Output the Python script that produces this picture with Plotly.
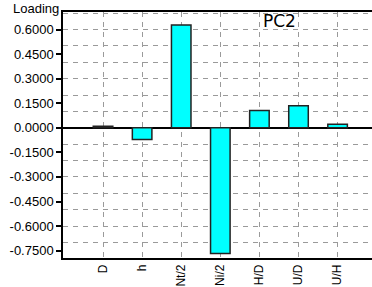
import plotly.graph_objects as go

categories = ["D", "h", "Nt/2", "Ni/2", "H/D", "U/D", "U/H"]
loadings = [0.010, -0.071, 0.628, -0.768, 0.106, 0.134, 0.021]
ytick_vals = [0.6, 0.45, 0.3, 0.15, 0.0, -0.15, -0.3, -0.45, -0.6, -0.75]
ytick_text = ["%.4f" % v if v >= 0 else "-%.4f" % abs(v) for v in ytick_vals]
ygrid_vals = [0.7, 0.6, 0.5, 0.4, 0.3, 0.2, 0.1, -0.1, -0.2, -0.3, -0.4, -0.5, -0.6, -0.7]

fig = go.Figure()
fig.add_trace(go.Bar(
    x=list(range(len(categories))), y=loadings, width=0.5,
    marker=dict(color="#00FFFF", line=dict(color="#222222", width=1.5)),
))

fig.update_layout(
    width=372, height=287,
    margin=dict(l=63, r=0, t=12, b=29),
    paper_bgcolor="white", plot_bgcolor="white",
    showlegend=False,
    font=dict(family="Liberation Sans, Arial, sans-serif", size=13, color="black"),
    xaxis=dict(
        range=[-1.024, 6.88], automargin=False,
        tickmode="array", tickvals=list(range(len(categories))), ticktext=categories,
        tickangle=-90, ticks="", tickfont=dict(size=12),
        showgrid=True, gridcolor="#9a9a9a", gridwidth=1, griddash="5px,5px",
        showline=True, linecolor="black", linewidth=1.5, mirror=True,
        zeroline=False,
    ),
    yaxis=dict(
        range=[-0.795, 0.707], automargin=False,
        tickmode="array", tickvals=ytick_vals, ticktext=ytick_text,
        ticks="outside", ticklen=5, tickwidth=1.5, tickcolor="black",
        showgrid=False,
        minor=dict(tickmode="array", tickvals=ygrid_vals, showgrid=True,
                   gridcolor="#9a9a9a", gridwidth=1, griddash="5px,5px", ticks=""),
        showline=True, linecolor="black", linewidth=1.5,
        zeroline=True, zerolinecolor="black", zerolinewidth=1.5,
    ),
    annotations=[
        dict(text="Loading", x=0, y=1, xref="paper", yref="paper",
             xanchor="right", yanchor="bottom", xshift=-2, yshift=-6,
             showarrow=False, font=dict(size=13)),
        dict(text="PC2", x=(279 - 63) / 309.0, y=0.655, xref="paper", yref="y",
             xanchor="center", yanchor="middle",
             showarrow=False, font=dict(family="DejaVu Sans", size=17)),
    ],
)

fig.write_html("out.html", config={"displayModeBar": False},
               post_script="document.body.style.margin='0';")
